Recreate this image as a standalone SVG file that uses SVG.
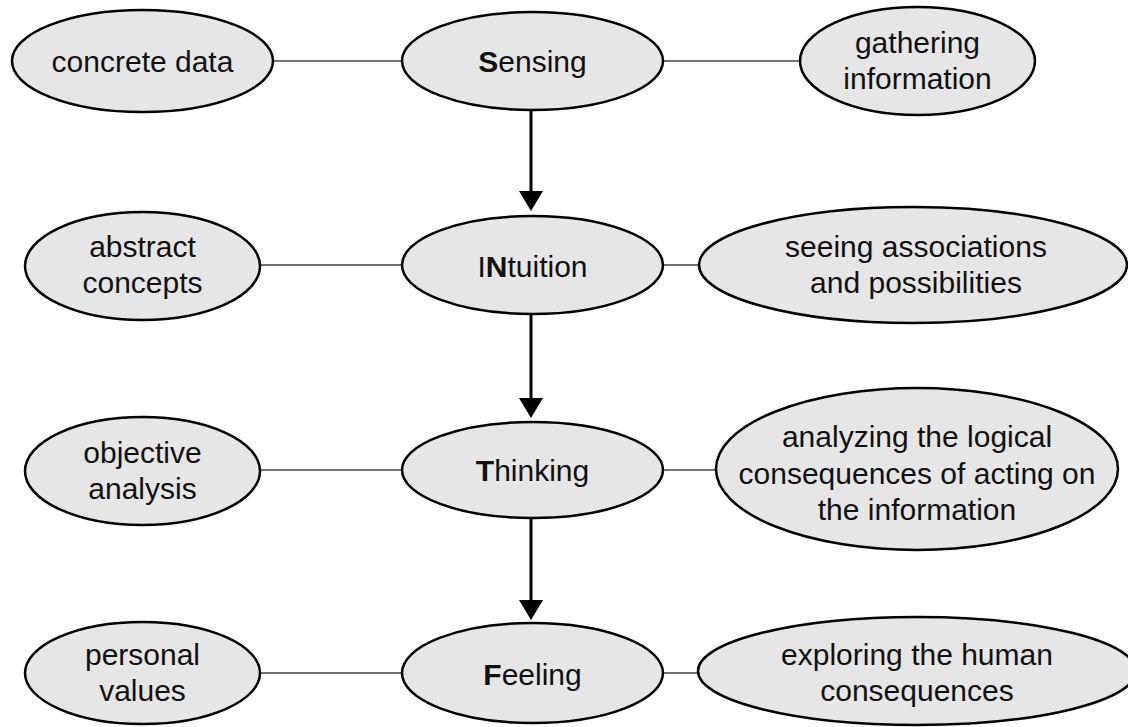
<svg xmlns="http://www.w3.org/2000/svg" width="1128" height="727" viewBox="0 0 1128 727">
<style>
.n{fill:#e6e6e6;stroke:#000;stroke-width:2.5}
.t{font-family:"Liberation Sans",Arial,Helvetica,sans-serif;font-size:30px;fill:#111;text-anchor:middle}
.b{font-weight:bold}
.c{stroke:#444;stroke-width:1.6;fill:none}
.a{stroke:#000;stroke-width:3;fill:none}
</style>
<defs>
<marker id="ah" markerUnits="userSpaceOnUse" markerWidth="20" markerHeight="24" viewBox="0 0 20 24" refX="10" refY="12" orient="auto">
<path d="M0,0 L20,12 L0,24 z" fill="#000"/>
</marker>
</defs>
<rect width="1128" height="727" fill="#fff"/>
<g id="connectors">
<line class="c" x1="273" y1="61" x2="402" y2="61"/>
<line class="c" x1="663" y1="61" x2="800" y2="61"/>
<line class="c" x1="260" y1="265" x2="402" y2="265"/>
<line class="c" x1="663" y1="265" x2="699" y2="265"/>
<line class="c" x1="260" y1="470" x2="402" y2="470"/>
<line class="c" x1="663" y1="470" x2="716" y2="470"/>
<line class="c" x1="260" y1="673" x2="402" y2="673"/>
<line class="c" x1="663" y1="673" x2="698" y2="673"/>
<line class="a" x1="531" y1="110" x2="531" y2="201" marker-end="url(#ah)"/>
<line class="a" x1="531" y1="314" x2="531" y2="408" marker-end="url(#ah)"/>
<line class="a" x1="531" y1="518" x2="531" y2="610" marker-end="url(#ah)"/>
</g>
<g id="concrete-data">
<ellipse class="n" cx="142.5" cy="61" rx="130.5" ry="51"/>
<text class="t" x="142.5" y="72">concrete data</text>
</g>
<g id="sensing">
<ellipse class="n" cx="532.5" cy="61" rx="130.5" ry="49"/>
<text class="t" x="532.5" y="72"><tspan class="b">S</tspan>ensing</text>
</g>
<g id="gathering-information">
<ellipse class="n" cx="917.5" cy="61" rx="117.5" ry="54"/>
<text class="t" x="917.5" y="53">gathering</text>
<text class="t" x="917.5" y="89">information</text>
</g>
<g id="abstract-concepts">
<ellipse class="n" cx="142.5" cy="266" rx="117.5" ry="54"/>
<text class="t" x="142.5" y="257">abstract</text>
<text class="t" x="142.5" y="293">concepts</text>
</g>
<g id="intuition">
<ellipse class="n" cx="532.5" cy="265" rx="130.5" ry="49"/>
<text class="t" x="532.5" y="277">I<tspan class="b">N</tspan>tuition</text>
</g>
<g id="seeing-associations">
<ellipse class="n" cx="913" cy="265" rx="214" ry="58"/>
<text class="t" x="916" y="257">seeing associations</text>
<text class="t" x="916" y="293">and possibilities</text>
</g>
<g id="objective-analysis">
<ellipse class="n" cx="142.5" cy="471" rx="117.5" ry="54"/>
<text class="t" x="142.5" y="463">objective</text>
<text class="t" x="142.5" y="499">analysis</text>
</g>
<g id="thinking">
<ellipse class="n" cx="532.5" cy="470" rx="130.5" ry="48"/>
<text class="t" x="532.5" y="481"><tspan class="b">T</tspan>hinking</text>
</g>
<g id="analyzing">
<ellipse class="n" cx="917" cy="469" rx="201" ry="81"/>
<text class="t" x="917" y="447">analyzing the logical</text>
<text class="t" x="917" y="484">consequences of acting on</text>
<text class="t" x="917" y="520">the information</text>
</g>
<g id="personal-values">
<ellipse class="n" cx="142.5" cy="673" rx="117.5" ry="51"/>
<text class="t" x="142.5" y="665">personal</text>
<text class="t" x="142.5" y="701">values</text>
</g>
<g id="feeling">
<ellipse class="n" cx="532.5" cy="673" rx="130.5" ry="50"/>
<text class="t" x="532.5" y="685"><tspan class="b">F</tspan>eeling</text>
</g>
<g id="exploring">
<ellipse class="n" cx="917" cy="671" rx="219" ry="54"/>
<text class="t" x="917" y="665">exploring the human</text>
<text class="t" x="917" y="701">consequences</text>
</g>
</svg>
